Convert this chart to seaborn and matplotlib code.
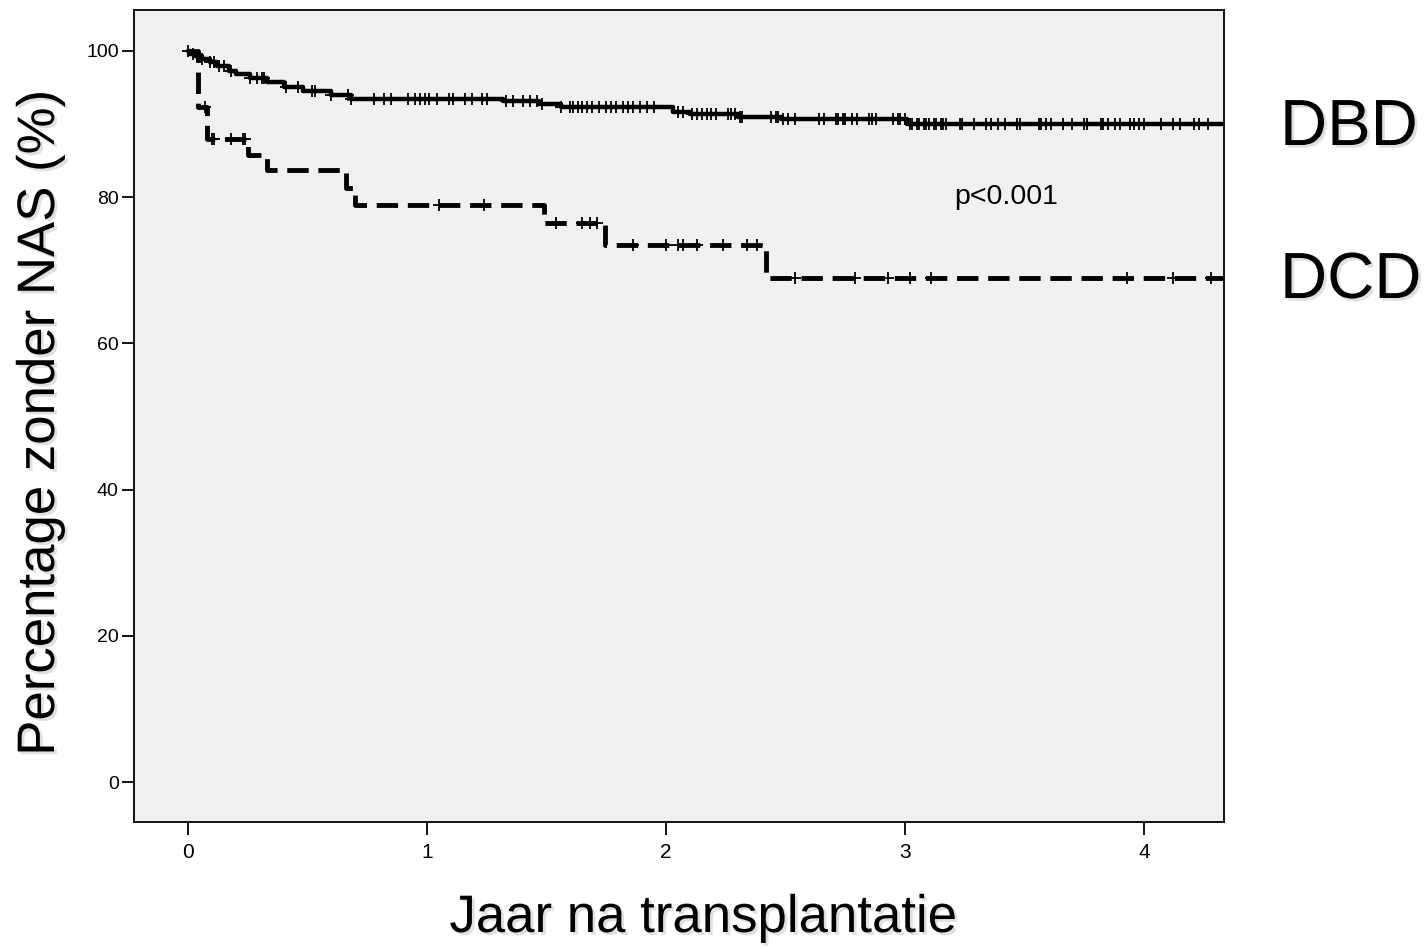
import numpy as np
import pandas as pd
import matplotlib
matplotlib.use("Agg")
import matplotlib.pyplot as plt
import matplotlib.patheffects as pe
import seaborn as sns

# Kaplan-Meier step values (years after transplant, % free of NAS)
dbd_times = [0.0, 0.01, 0.03, 0.06, 0.09, 0.12, 0.17, 0.20, 0.26, 0.33, 0.40,
             0.48, 0.60, 0.68, 1.32, 1.47, 1.56, 2.03, 2.10, 2.30, 2.48, 3.01, 4.33]
dbd_surv = [100.0, 99.6, 99.3, 98.9, 98.5, 98.0, 97.3, 96.8, 96.3, 95.7, 95.0,
            94.5, 94.0, 93.4, 93.1, 92.7, 92.3, 91.7, 91.4, 91.0, 90.7, 90.0, 90.0]

dcd_times = [0.0, 0.04, 0.08, 0.25, 0.33, 0.66, 0.70, 1.49, 1.745, 2.42, 4.33]
dcd_surv = [100.0, 92.3, 88.0, 85.7, 83.7, 81.3, 78.9, 76.4, 73.5, 68.9, 68.9]

# Censored observations (years)
dbd_censored = [0.0, 0.02, 0.04, 0.06, 0.09, 0.11, 0.13, 0.15, 0.18, 0.26, 0.29,
                0.31, 0.32, 0.41, 0.46, 0.52, 0.53, 0.60, 0.67,
                0.68, 0.78, 0.82, 0.85, 0.92, 0.95, 0.97, 0.99, 1.01, 1.04, 1.09,
                1.11, 1.16, 1.19, 1.23, 1.25, 1.33, 1.36, 1.40, 1.43, 1.46, 1.48,
                1.56, 1.60, 1.61, 1.63, 1.65, 1.67, 1.69, 1.72, 1.75, 1.77, 1.79,
                1.82, 1.84, 1.86, 1.89, 1.92, 1.95, 2.05, 2.07, 2.11, 2.13,
                2.15, 2.17, 2.19, 2.21, 2.26, 2.27, 2.29, 2.31, 2.32, 2.44, 2.46,
                2.47, 2.49, 2.51, 2.54, 2.64, 2.66, 2.71, 2.72, 2.74, 2.75, 2.78,
                2.80, 2.85, 2.86, 2.88, 2.95, 2.97, 2.98, 3.00, 3.02, 3.03, 3.05,
                3.06, 3.08, 3.09, 3.10, 3.12, 3.13, 3.15, 3.16, 3.17, 3.23, 3.24,
                3.29, 3.34, 3.36, 3.39, 3.42, 3.47, 3.48, 3.56, 3.57, 3.59, 3.61,
                3.66, 3.70, 3.75, 3.76, 3.82, 3.83, 3.85, 3.88, 3.90, 3.94, 3.96,
                3.98, 4.00, 4.07, 4.12, 4.15, 4.21, 4.23, 4.27]
dcd_censored = [0.07, 0.10, 0.11, 0.18, 0.23, 0.24, 1.05, 1.24, 1.54, 1.65, 1.68,
                1.71, 1.86, 2.00, 2.05, 2.07, 2.13, 2.24, 2.34, 2.38, 2.54, 2.79,
                2.93, 3.02, 3.11, 3.93, 4.12, 4.28]

group_labels = ["DBD", "DCD"]
x_ticks = [0, 1, 2, 3, 4]
y_ticks = [0, 20, 40, 60, 80, 100]
p_text = "p<0.001"
x_title = "Jaar na transplantatie"
y_title = "Percentage zonder NAS (%)"


def survival_at(times, surv, t):
    idx = np.searchsorted(np.asarray(times), t, side="right") - 1
    return np.asarray(surv)[np.clip(idx, 0, len(surv) - 1)]


steps = pd.concat([
    pd.DataFrame({"t": dbd_times, "s": dbd_surv, "group": "DBD"}),
    pd.DataFrame({"t": dcd_times, "s": dcd_surv, "group": "DCD"}),
])
cens = pd.concat([
    pd.DataFrame({"t": dbd_censored,
                  "s": survival_at(dbd_times, dbd_surv, dbd_censored), "group": "DBD"}),
    pd.DataFrame({"t": dcd_censored,
                  "s": survival_at(dcd_times, dcd_surv, dcd_censored), "group": "DCD"}),
])

sns.set_style("white", {"axes.facecolor": "#f0f0f0", "axes.edgecolor": "black",
                        "text.color": "black", "xtick.color": "black",
                        "ytick.color": "black", "axes.labelcolor": "black"})
plt.rcParams["font.family"] = ["Liberation Sans", "DejaVu Sans"]

fig = plt.figure(figsize=(14.25, 9.49), dpi=100)
ax = fig.add_axes([134 / 1425, 1 - 822 / 949, (1224 - 134) / 1425, (822 - 10) / 949])

sns.lineplot(data=steps[steps.group == "DBD"], x="t", y="s", ax=ax,
             drawstyle="steps-post", color="black", linewidth=3.2,
             estimator=None, legend=False)
sns.lineplot(data=steps[steps.group == "DCD"], x="t", y="s", ax=ax,
             drawstyle="steps-post", color="black", linewidth=3.5,
             estimator=None, legend=False)
ax.lines[1].set_dashes([4.4, 2.0])
ax.lines[1].set_dash_capstyle("butt")

for g in group_labels:
    sns.scatterplot(data=cens[cens.group == g], x="t", y="s", ax=ax,
                    marker="+", s=85, color="black", linewidth=1.3, legend=False)

ax.set_xlim(-0.226, 4.335)
ax.set_ylim(-5.47, 105.6)
ax.set_xticks(x_ticks)
ax.set_yticks(y_ticks)
ax.tick_params(axis="both", direction="out", length=9, width=1.3, color="black",
               labelcolor="black", pad=2, bottom=True, left=True)
ax.tick_params(axis="x", labelsize=15, pad=6)
ax.tick_params(axis="y", labelsize=14)
ax.set_xlabel("")
ax.set_ylabel("")
for sp in ax.spines.values():
    sp.set_linewidth(1.3)
    sp.set_color("black")

ax.text(3.205, 80.0, p_text, fontsize=20.5, va="center", ha="left", color="black")

shadow = [pe.withSimplePatchShadow(offset=(2, -2), shadow_rgbFace="#999999", alpha=0.3)]
fig.text(703 / 1425, 1 - 918 / 949, x_title, fontsize=38, ha="center", va="center",
         color="black", path_effects=shadow)
fig.text(40 / 1425, 1 - 423 / 949, y_title, fontsize=38, ha="center", va="center",
         rotation=90, color="black", path_effects=shadow)
fig.text(1280 / 1425, 1 - 145 / 949, group_labels[0], fontsize=47, ha="left",
         va="baseline", color="black", path_effects=shadow)
fig.text(1280 / 1425, 1 - 298 / 949, group_labels[1], fontsize=47, ha="left",
         va="baseline", color="black", path_effects=shadow)

fig.savefig("out.png", dpi=100, facecolor="white")
